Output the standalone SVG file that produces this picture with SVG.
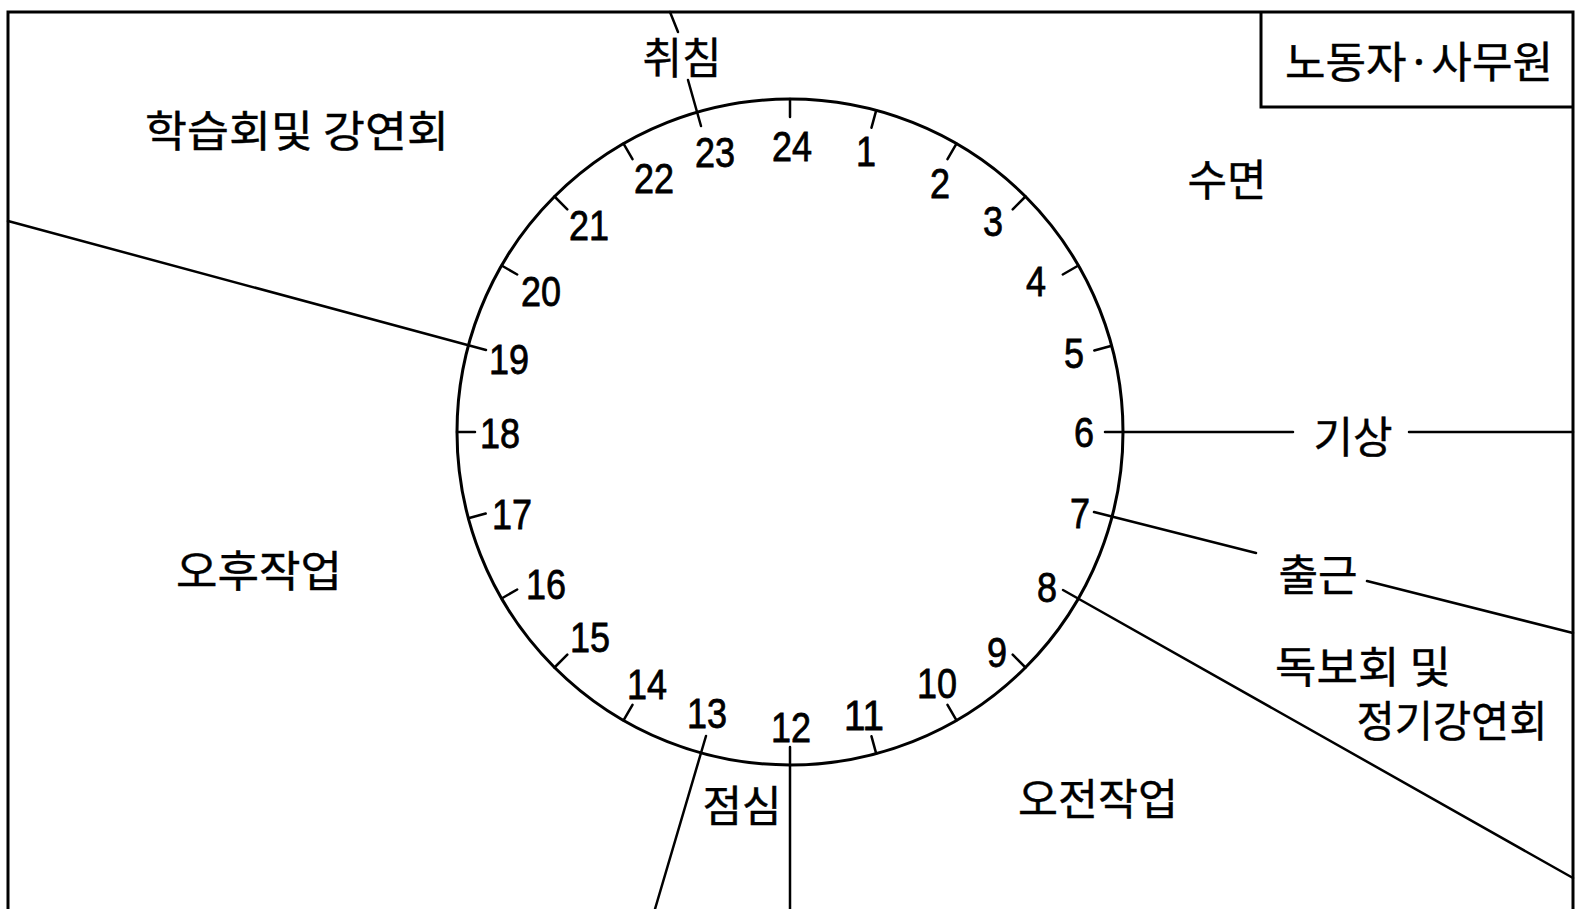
<svg xmlns="http://www.w3.org/2000/svg" width="1583" height="909" viewBox="0 0 1583 909">
<style>
.ln{stroke:#000;stroke-width:2.5;fill:none;stroke-linecap:round}
.fr{stroke:#000;stroke-width:3;fill:none}
.tk{stroke:#000;stroke-width:2.5;stroke-linecap:round}
.num{font-family:"Liberation Sans",Arial,sans-serif;font-size:42px;fill:#000;stroke:#000;stroke-width:0.8;text-anchor:middle;dominant-baseline:central}
.ko{font-family:"Noto Sans CJK KR","Noto Sans",sans-serif;font-size:43px;fill:#000;stroke:#000;stroke-width:0.4;text-anchor:middle;dominant-baseline:central}
</style>
<rect x="0" y="0" width="1583" height="909" fill="#fff"/>
<g id="frame">
<path class="fr" d="M8,909 V12 H1573 V909"/>
</g>
<g id="title">
<path class="fr" d="M1261,12 V107 H1573"/>
<text class="ko" x="1419" y="59" textLength="268" lengthAdjust="spacingAndGlyphs">노동자·사무원</text>
</g>
<g id="clock">
<circle cx="790" cy="432" r="333" fill="none" stroke="#000" stroke-width="3"/>
<path class="tk" d="M876.2,110.3L871.5,127.7M956.5,143.6L947.5,159.2M1025.5,196.5L1012.7,209.3M1078.4,265.5L1062.8,274.5M1111.7,345.8L1094.3,350.5M1025.5,667.5L1012.7,654.7M956.5,720.4L947.5,704.8M876.2,753.7L871.5,736.3M623.5,720.4L632.5,704.8M554.5,667.5L567.3,654.7M501.6,598.5L517.2,589.5M468.3,518.2L485.7,513.5M457,432L475,432M501.6,265.5L517.2,274.5M554.5,196.5L567.3,209.3M623.5,143.6L632.5,159.2M790,99L790,117"/>
<g id="hours">
<text class="num" x="792" y="146" textLength="40" lengthAdjust="spacingAndGlyphs">24</text>
<text class="num" x="866" y="151" textLength="20" lengthAdjust="spacingAndGlyphs">1</text>
<text class="num" x="940" y="183" textLength="20" lengthAdjust="spacingAndGlyphs">2</text>
<text class="num" x="993" y="221" textLength="20" lengthAdjust="spacingAndGlyphs">3</text>
<text class="num" x="1036" y="281" textLength="20" lengthAdjust="spacingAndGlyphs">4</text>
<text class="num" x="1074" y="353" textLength="20" lengthAdjust="spacingAndGlyphs">5</text>
<text class="num" x="1084" y="432" textLength="20" lengthAdjust="spacingAndGlyphs">6</text>
<text class="num" x="1080" y="513" textLength="20" lengthAdjust="spacingAndGlyphs">7</text>
<text class="num" x="1047" y="587" textLength="20" lengthAdjust="spacingAndGlyphs">8</text>
<text class="num" x="997" y="652" textLength="20" lengthAdjust="spacingAndGlyphs">9</text>
<text class="num" x="937" y="683" textLength="40" lengthAdjust="spacingAndGlyphs">10</text>
<text class="num" x="864" y="715" textLength="40" lengthAdjust="spacingAndGlyphs">11</text>
<text class="num" x="791" y="727" textLength="40" lengthAdjust="spacingAndGlyphs">12</text>
<text class="num" x="707" y="713" textLength="40" lengthAdjust="spacingAndGlyphs">13</text>
<text class="num" x="647" y="684" textLength="40" lengthAdjust="spacingAndGlyphs">14</text>
<text class="num" x="590" y="637" textLength="40" lengthAdjust="spacingAndGlyphs">15</text>
<text class="num" x="546" y="584" textLength="40" lengthAdjust="spacingAndGlyphs">16</text>
<text class="num" x="512" y="514" textLength="40" lengthAdjust="spacingAndGlyphs">17</text>
<text class="num" x="500" y="433" textLength="40" lengthAdjust="spacingAndGlyphs">18</text>
<text class="num" x="509" y="359" textLength="40" lengthAdjust="spacingAndGlyphs">19</text>
<text class="num" x="541" y="291" textLength="40" lengthAdjust="spacingAndGlyphs">20</text>
<text class="num" x="589" y="225" textLength="40" lengthAdjust="spacingAndGlyphs">21</text>
<text class="num" x="654" y="178" textLength="40" lengthAdjust="spacingAndGlyphs">22</text>
<text class="num" x="715" y="152" textLength="40" lengthAdjust="spacingAndGlyphs">23</text>
</g>
</g>
<g id="connectors">
<path class="ln" d="M670,12L678,32M688,80L701,126"/>
<path class="ln" d="M1105,432H1293M1409,432H1573"/>
<path class="ln" d="M1094,512L1256,553M1367,581L1573,633"/>
<path class="ln" d="M1063,590L1573,878"/>
<path class="ln" d="M790,747V909"/>
<path class="ln" d="M706,736L655,909"/>
<path class="ln" d="M486,350L8,221"/>
</g>
<g id="activities">
<text class="ko" x="682" y="55">취침</text>
<text class="ko" x="297" y="128" textLength="304" lengthAdjust="spacingAndGlyphs">학습회및 강연회</text>
<text class="ko" x="1227" y="177">수면</text>
<text class="ko" x="1353" y="434">기상</text>
<text class="ko" x="1318" y="572">출근</text>
<text class="ko" x="1363" y="664" textLength="176" lengthAdjust="spacingAndGlyphs">독보회 및</text>
<text class="ko" x="1452" y="718" textLength="191" lengthAdjust="spacingAndGlyphs">정기강연회</text>
<text class="ko" x="1098" y="796" textLength="160" lengthAdjust="spacingAndGlyphs">오전작업</text>
<text class="ko" x="742" y="803">점심</text>
<text class="ko" x="259" y="568" textLength="166" lengthAdjust="spacingAndGlyphs">오후작업</text>
</g>
</svg>
